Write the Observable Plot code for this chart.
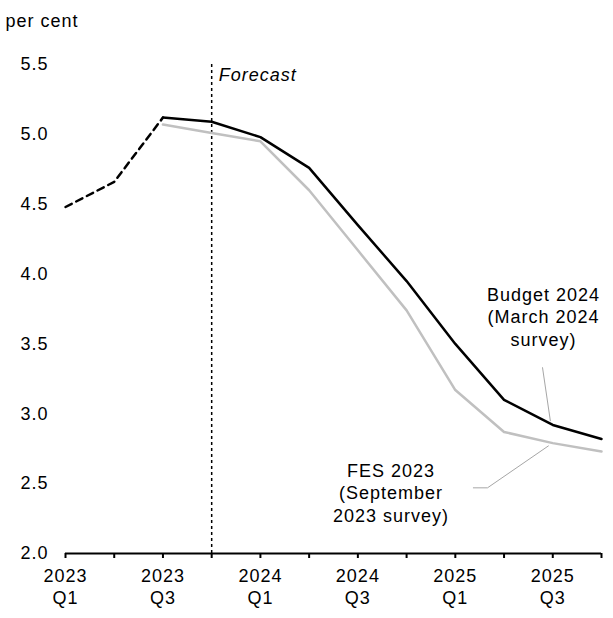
<!DOCTYPE html>
<html>
<head>
<meta charset="utf-8">
<script src="https://cdn.jsdelivr.net/npm/d3@7"></script>
<script src="https://cdn.jsdelivr.net/npm/@observablehq/plot@0.6"></script>
<style>
  html, body { margin: 0; padding: 0; background: #fff; }
</style>
</head>
<body>
<div id="chart"></div>
<script>
// Quarters (x categories)
const quarters = ["2023 Q1","2023 Q2","2023 Q3","2023 Q4","2024 Q1","2024 Q2","2024 Q3","2024 Q4","2025 Q1","2025 Q2","2025 Q3","2025 Q4"];

// Historical (dashed), 2023 Q1 – 2023 Q3
const historicalQuarters = ["2023 Q1","2023 Q2","2023 Q3"];
const historicalValues = [4.48, 4.66, 5.12];

// Budget 2024 (March 2024 survey)
const budgetQuarters = ["2023 Q3","2023 Q4","2024 Q1","2024 Q2","2024 Q3","2024 Q4","2025 Q1","2025 Q2","2025 Q3","2025 Q4"];
const budgetValues = [5.12, 5.09, 4.98, 4.76, 4.35, 3.95, 3.50, 3.10, 2.92, 2.82];

// FES 2023 (September 2023 survey)
const fesQuarters = ["2023 Q3","2023 Q4","2024 Q1","2024 Q2","2024 Q3","2024 Q4","2025 Q1","2025 Q2","2025 Q3","2025 Q4"];
const fesValues = [5.07, 5.01, 4.95, 4.60, 4.17, 3.74, 3.17, 2.87, 2.79, 2.73];

const yTicks = [2.0, 2.5, 3.0, 3.5, 4.0, 4.5, 5.0, 5.5];
const forecastStart = "2023 Q4";

const budgetLabel = "Budget 2024\n(March 2024\nsurvey)";
const fesLabel = "FES 2023\n(September\n2023 survey)";

const idx = q => quarters.indexOf(q);
const hist = historicalQuarters.map((q, i) => ({x: idx(q), y: historicalValues[i]}));
const budget = budgetQuarters.map((q, i) => ({x: idx(q), y: budgetValues[i]}));
const fes = fesQuarters.map((q, i) => ({x: idx(q), y: fesValues[i]}));

const font = "'Liberation Sans', Arial, sans-serif";
const fs = 18;

const chart = Plot.plot({
  width: 613,
  height: 618,
  marginLeft: 65,
  marginRight: 12,
  marginTop: 64,
  marginBottom: 65,
  style: {fontFamily: font, fontSize: fs + "px", color: "#000", background: "#fff", letterSpacing: "1px"},
  x: {domain: [0, quarters.length - 1]},
  y: {domain: [2, 5.5]},
  marks: [
    Plot.axisY({ticks: yTicks, tickFormat: d3.format(".1f"), tickSize: 0, tickPadding: 17, label: null, fontSize: fs}),
    Plot.axisX({
      ticks: d3.range(quarters.length),
      tickSize: 5,
      strokeWidth: 2,
      tickPadding: 8,
      label: null,
      fontSize: fs,
      lineHeight: 1.22,
      tickFormat: i => i % 2 === 0 ? quarters[i].replace(" ", "\n") : ""
    }),
    Plot.ruleY([2], {stroke: "#000", strokeWidth: 2}),
    Plot.ruleX([idx(forecastStart)], {stroke: "#000", strokeWidth: 1.5, strokeDasharray: "3,3"}),
    Plot.text(["Forecast"], {x: idx(forecastStart), y: 5.42, text: d => d, textAnchor: "start", dx: 7, fontStyle: "italic", fontSize: fs}),
    Plot.text(["per cent"], {frameAnchor: "top-left", text: d => d, textAnchor: "start", dx: -60, dy: -50, fontSize: fs}),
    // leader lines
    Plot.line([{x: 9.79, y: 3.33}, {x: 9.95, y: 2.95}], {x: "x", y: "y", stroke: "#a6a6a6", strokeWidth: 1}),
    Plot.line([{x: 8.37, y: 2.47}, {x: 8.66, y: 2.47}, {x: 9.91, y: 2.77}], {x: "x", y: "y", stroke: "#a6a6a6", strokeWidth: 1}),
    // series
    Plot.line(fes, {x: "x", y: "y", stroke: "#c0c0c0", strokeWidth: 2.5}),
    Plot.line(budget, {x: "x", y: "y", stroke: "#000", strokeWidth: 2.5}),
    Plot.line(hist, {x: "x", y: "y", stroke: "#000", strokeWidth: 2.5, strokeDasharray: "7,5"}),
    // labels
    Plot.text([budgetLabel], {x: 9.81, y: 3.70, text: d => d, textAnchor: "middle", lineHeight: 1.25, fontSize: fs}),
    Plot.text([fesLabel], {x: 6.68, y: 2.44, text: d => d, textAnchor: "middle", lineHeight: 1.25, fontSize: fs})
  ]
});
document.getElementById("chart").appendChild(chart);
</script>
</body>
</html>
